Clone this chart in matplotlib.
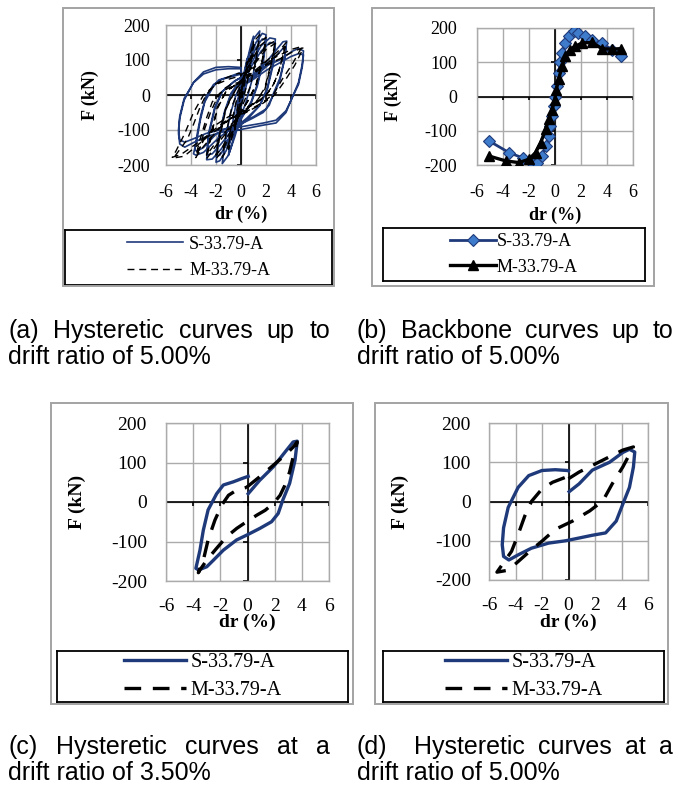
import matplotlib
matplotlib.use("Agg")
import matplotlib.pyplot as plt
from matplotlib.patches import Rectangle

# ================= 1. data =================
x_ticks = [-6, -4, -2, 0, 2, 4, 6]
y_ticks = [-200, -100, 0, 100, 200]

# --- S-33.79-A hysteresis loops, one array pair per cycle ---
s_l1_x = [0, 0.12, 0.25, 0.2, 0.05, -0.1, -0.25, -0.2, -0.05, 0]
s_l1_f = [0, 35, 60, 40, 0, -30, -60, -45, -5, 5]
s_l2_x = [0, 0.25, 0.5, 0.42, 0.15, -0.15, -0.5, -0.42, -0.15, 0]
s_l2_f = [5, 65, 105, 60, 0, -50, -110, -65, -5, 10]
s_l3_x = [0, 0.4, 0.8, 1.0, 0.85, 0.45, 0, -0.4, -0.8, -1.0, -0.85, -0.45, 0]
s_l3_f = [10, 85, 145, 168, 110, 30, -35, -95, -150, -172, -115, -35, 20]
s_l4_x = [0, 0.5, 1.0, 1.5, 1.3, 0.9, 0.4, 0, -0.5, -1.0, -1.5, -1.3, -0.9, -0.4, 0]
s_l4_f = [20, 95, 160, 183, 120, 45, -20, -60, -120, -172, -196, -140, -60, 0, 30]
s_l5_x = [0, 0.6, 1.2, 1.7, 2.0, 1.8, 1.3, 0.8, 0, -0.6, -1.2, -1.7, -2.0, -1.8, -1.3, -0.8, 0]
s_l5_f = [30, 95, 150, 176, 172, 110, 30, -20, -70, -110, -160, -188, -192, -130, -50, 0, 40]
s_l5b_x = [0, 0.6, 1.2, 1.7, 2.0, 1.8, 1.3, 0.8, 0, -0.6, -1.2, -1.7, -2.0, -1.8, -1.3, -0.8, 0]
s_l5b_f = [40, 85, 135, 160, 158, 100, 25, -25, -65, -100, -145, -172, -176, -120, -45, 5, 45]
s_l6_x = [0, 0.8, 1.6, 2.3, 2.75, 2.6, 2.1, 1.5, 0.5, 0, -0.8, -1.6, -2.3, -2.75, -2.6, -2.1,
          -1.5, -0.5, 0]
s_l6_f = [45, 90, 140, 163, 160, 100, 20, -30, -70, -85, -115, -155, -183, -185, -120, -40,
          10, 40, 50]
s_l6b_x = [0, 0.8, 1.6, 2.3, 2.75, 2.6, 2.1, 1.5, 0.5, 0, -0.8, -1.6, -2.3, -2.75, -2.6, -2.1,
           -1.5, -0.5, 0]
s_l6b_f = [50, 80, 125, 150, 148, 90, 15, -30, -65, -80, -105, -140, -168, -172, -110, -35,
           10, 40, 50]
s_l7_x = [0.05, 0.9, 1.9, 2.87, 3.36, 3.66, 3.5, 3.1, 2.6, 2.26, 1.77, 0.9, -0.07, -0.8, -1.78,
          -2.5, -3.0, -3.6, -3.8, -3.5, -3.25, -2.9, -2.27, -1.78, -1.05, -0.44, 0.05]
s_l7_f = [21, 55, 89, 131, 152, 154, 106, 47, 5, -29, -50, -67, -84, -96, -122,
          -147, -164, -172, -168, -122, -71, -20, 21, 43, 51, 59, 65]
s_l7b_x = [0.05, 1.0, 2.0, 2.9, 3.4, 3.6, 3.45, 3.1, 2.6, 2.0, 1.0, 0, -1.0, -2.0, -3.0, -3.5,
           -3.7, -3.5, -3.2, -2.8, -2.2, -1.5, -0.5, 0.05]
s_l7b_f = [20, 50, 80, 115, 135, 138, 95, 40, 0, -40, -62, -80, -92, -112, -150, -160,
           -158, -110, -55, -5, 30, 45, 55, 60]
s_l8_x = [0.05, 0.8, 1.8, 3.1, 4.1, 4.6, 5.0, 4.9, 4.6, 4.2, 3.6, 2.8, 1.8, 0.8, -0.2, -1.5,
          -2.8, -3.8, -4.5, -4.9, -5.0, -4.9, -4.55, -3.8, -3.0, -2.0, -1.0, -0.1, 0]
s_l8_f = [25, 45, 80, 100, 125, 133, 126, 88, 36, 2, -50, -80, -86, -93, -100, -106,
          -119, -136, -149, -140, -110, -67, -15, 36, 66, 79, 81, 79, 78]
s_l8b_x = [0.05, 1, 2, 3, 4, 4.6, 5.0, 4.9, 4.6, 4.2, 3.6, 2.8, 1.8, 0.8, -0.2, -1.5, -2.8,
           -3.8, -4.5, -4.9, -5.0, -4.9, -4.55, -3.8, -3.0, -2.0, -1.0, 0]
s_l8b_f = [25, 45, 70, 90, 110, 118, 115, 80, 30, 0, -45, -72, -80, -86, -92, -98, -110,
           -125, -135, -128, -100, -60, -10, 35, 60, 72, 75, 75]

# --- M-33.79-A hysteresis loops ---
m_l1_x = [0, 0.12, 0.25, 0.18, 0.05, -0.1, -0.25, -0.18, -0.05, 0]
m_l1_f = [0, 30, 55, 30, 0, -30, -55, -30, 0, 5]
m_l2_x = [0, 0.25, 0.5, 0.35, 0.1, -0.2, -0.5, -0.35, -0.1, 0]
m_l2_f = [5, 55, 95, 45, -5, -55, -100, -50, 0, 10]
m_l3_x = [0, 0.5, 1.0, 0.8, 0.4, 0, -0.5, -1.0, -0.8, -0.4, 0]
m_l3_f = [10, 85, 152, 90, 20, -30, -95, -155, -90, -20, 20]
m_l4_x = [0, 0.7, 1.2, 1.5, 1.2, 0.7, 0, -0.7, -1.2, -1.5, -1.2, -0.7, 0]
m_l4_f = [20, 100, 160, 172, 100, 20, -40, -110, -160, -178, -110, -30, 30]
m_l5_x = [0, 0.8, 1.5, 2.0, 1.7, 1.2, 0.5, 0, -0.8, -1.5, -2.0, -1.7, -1.2, -0.5, 0]
m_l5_f = [30, 100, 150, 165, 100, 30, -20, -50, -110, -160, -182, -120, -40, 10, 35]
m_l5b_x = [0, 0.8, 1.5, 2.0, 1.7, 1.2, 0.5, 0, -0.8, -1.5, -2.0, -1.7, -1.2, -0.5, 0]
m_l5b_f = [35, 95, 140, 155, 95, 25, -20, -45, -100, -150, -172, -110, -35, 10, 40]
m_l6_x = [0, 1, 2, 2.75, 2.4, 1.9, 1.2, 0, -1, -2, -2.75, -2.4, -1.9, -1.2, 0]
m_l6_f = [40, 90, 140, 155, 90, 20, -20, -55, -100, -145, -182, -120, -40, 10, 40]
m_l6b_x = [0, 1, 2, 2.75, 2.4, 1.9, 1.2, 0, -1, -2, -2.75, -2.4, -1.9, -1.2, 0]
m_l6b_f = [40, 85, 130, 148, 85, 15, -20, -50, -95, -135, -172, -110, -35, 10, 40]
m_l7_x = [-0.07, 0.9, 1.9, 2.87, 3.36, 3.66, 3.36, 3.1, 2.75, 2.4, 1.9, 1.3, 0.7, -0.07, -0.8,
          -1.54, -2.27, -3.0, -3.5, -3.62, -3.25, -2.9, -2.4, -1.9, -1.4, -0.8, -0.07]
m_l7_f = [37, 64, 93, 122, 139, 152, 114, 76, 42, 17, -4, -21, -33, -50, -67,
          -88, -117, -147, -172, -179, -147, -96, -46, -8, 17, 30, 37]
m_l7b_x = [0, 1, 2, 3, 3.5, 3.3, 3.0, 2.6, 2.1, 1.5, 0.7, 0, -1, -2, -3, -3.6, -3.3, -2.8,
           -2.3, -1.7, -1, 0]
m_l7b_f = [40, 60, 88, 118, 138, 105, 65, 30, 5, -15, -30, -45, -62, -85, -130, -172, -130, -70,
           -20, 5, 20, 35]
m_l8_x = [0, 0.8, 1.8, 3.1, 4.1, 4.9, 4.1, 3.3, 2.6, 1.6, 0.3, -1.0, -2.0, -2.8, -3.8, -4.55,
          -5.4, -4.3, -3.8, -3.3, -2.8, -2.0, -1.2, -0.2, 0]
m_l8_f = [58, 75, 92, 114, 131, 139, 88, 45, 2, -24, -50, -71, -101, -123, -153, -175,
          -180, -127, -84, -37, 0, 32, 49, 62, 60]
m_l8b_x = [0, 1, 2, 3.2, 4.2, 5.0, 4.3, 3.5, 2.7, 1.7, 0.4, -1, -2, -3, -4, -4.8, -5.5, -5.2,
           -4.5, -3.8, -3.0, -2, -1, 0]
m_l8b_f = [50, 65, 85, 105, 125, 135, 85, 40, 0, -25, -50, -68, -95, -125, -150, -170, -178,
           -160, -110, -50, 0, 30, 45, 55]

# --- backbone curves ---
s_bb_x = [-5.06, -3.53, -2.5, -1.75, -1.37, -0.99, -0.73, -0.48, -0.35, -0.22, -0.1, 0.03,
          0.16, 0.28, 0.4, 0.54, 0.8, 1.05, 1.43, 1.8, 2.3, 2.83, 3.6, 4.36, 5.1]
s_bb_f = [-130, -164, -179, -193, -195, -174, -145, -116, -86, -57, -28, 0,
          30, 69, 100, 127, 156, 176, 190, 185, 176, 166, 156, 137, 117]
m_bb_x = [-5.06, -3.8, -2.77, -2.0, -1.5, -1.1, -0.73, -0.48, -0.22, -0.02, 0.1, 0.28,
          0.54, 0.8, 1.18, 1.56, 2.07, 2.83, 3.6, 4.36, 5.1]
m_bb_f = [-174, -188, -193, -183, -164, -135, -96, -67, -38, -9, 20, 50,
          88, 117, 137, 147, 156, 158, 140, 138, 140]

# full test = all cycles in sequence
s_all_x = (s_l1_x + s_l2_x + s_l3_x + s_l4_x + s_l5_x + s_l5b_x + s_l6_x + s_l6b_x
           + s_l7_x + s_l7b_x + s_l8_x + s_l8b_x)
s_all_f = (s_l1_f + s_l2_f + s_l3_f + s_l4_f + s_l5_f + s_l5b_f + s_l6_f + s_l6b_f
           + s_l7_f + s_l7b_f + s_l8_f + s_l8b_f)
m_all_x = (m_l1_x + m_l2_x + m_l3_x + m_l4_x + m_l5_x + m_l5b_x + m_l6_x + m_l6b_x
           + m_l7_x + m_l7b_x + m_l8_x + m_l8b_x)
m_all_f = (m_l1_f + m_l2_f + m_l3_f + m_l4_f + m_l5_f + m_l5b_f + m_l6_f + m_l6b_f
           + m_l7_f + m_l7b_f + m_l8_f + m_l8b_f)

label_s = 'S-33.79-A'
label_m = 'M-33.79-A'

captions = [
    (['(a)', 'Hysteretic', 'curves', 'up', 'to'], [1, 1, 1, 1], 'drift ratio of 5.00%'),
    (['(b)', 'Backbone', 'curves', 'up', 'to'], [1, 1, 1, 1], 'drift ratio of 5.00%'),
    (['(c)', 'Hysteretic', 'curves', 'at', 'a'], [1, 1, 1, 1], 'drift ratio of 3.50%'),
    (['(d)', 'Hysteretic', 'curves', 'at', 'a'], [2, 1, 1, 1], 'drift ratio of 5.00%'),
]

# ================= 2. style / layout =================
W, H, DPI = 681, 788, 100
NAVY = '#1F3A7A'
GRID = '#ABABAB'
SERIF = ['Liberation Serif', 'DejaVu Serif']
SANS = ['Liberation Sans', 'DejaVu Sans']

fig = plt.figure(figsize=(W / DPI, H / DPI), dpi=DPI)


def frac(x0, y0, x1, y1):
    """pixel box (top-left origin) -> figure fraction rect"""
    return [x0 / W, 1 - y1 / H, (x1 - x0) / W, (y1 - y0) / H]


def outer_box(x0, y0, x1, y1):
    fig.add_artist(Rectangle((x0 / W, 1 - y1 / H), (x1 - x0) / W, (y1 - y0) / H,
                             transform=fig.transFigure, fill=False,
                             edgecolor='#A3A3A3', lw=1.4))


def make_axes(box, fs, xpad, ypad, ylab_x, xlab_y):
    ax = fig.add_axes(frac(*box))
    ax.set_xlim(-6, 6)
    ax.set_ylim(-200, 200)
    ax.set_xticks(x_ticks)
    ax.set_yticks(y_ticks)
    ax.set_xticklabels([str(v) for v in x_ticks], fontfamily=SERIF, fontsize=fs)
    ax.set_yticklabels([str(v) for v in y_ticks], fontfamily=SERIF, fontsize=fs)
    ax.tick_params(axis='x', length=0, pad=xpad)
    ax.tick_params(axis='y', length=0, pad=ypad)
    ax.grid(True, color=GRID, lw=1.0)
    ax.set_axisbelow(True)
    for sp in ax.spines.values():
        sp.set_color(GRID)
        sp.set_linewidth(1.0)
    # excel style axes crossing at zero
    ax.axhline(0, color='black', lw=1.2, zorder=1.5)
    ax.axvline(0, color='black', lw=1.2, zorder=1.5)
    ax.vlines(x_ticks, -11, 0, color='black', lw=1.2, zorder=1.5)
    ax.hlines(y_ticks, -0.3, 0, color='black', lw=1.2, zorder=1.5)
    # axis titles
    x0, y0, x1, y1 = box
    fig.text(ylab_x / W, 1 - (y0 + y1) / 2 / H, 'F (kN)', rotation=90, ha='center',
             va='center', fontfamily=SERIF, fontweight='bold', fontsize=fs)
    fig.text((x0 + x1) / 2 / W, 1 - xlab_y / H, 'dr (%)', ha='center', va='center',
             fontfamily=SERIF, fontweight='bold', fontsize=fs)
    return ax


def legend_box(box, handles, fs, hlen, hpad, lspace):
    lax = fig.add_axes(frac(*box))
    lax.set_xticks([])
    lax.set_yticks([])
    for sp in lax.spines.values():
        sp.set_color('black')
        sp.set_linewidth(1.3)
    lax.legend(handles, [label_s, label_m], loc='center', frameon=False,
               prop={'family': SERIF, 'size': fs}, handlelength=hlen,
               handletextpad=hpad, labelspacing=lspace, borderpad=0, numpoints=1)


# ================= 3. panels =================
# (a) full hysteresis
outer_box(63, 8, 334, 286)
ax_a = make_axes((166, 25, 316, 165), 13, 14, 11.5, 90, 214)
la1, = ax_a.plot(s_all_x, s_all_f, color=NAVY, lw=1.2, zorder=3)
la2, = ax_a.plot(m_all_x, m_all_f, color='black', lw=1.0, ls=(0, (5, 3.5)), zorder=4)
legend_box((65, 230, 332, 285), [la1, la2], 13, 3.1, 0.35, 0.55)

# (b) backbone
outer_box(372, 8, 654, 286)
ax_b = make_axes((477, 28, 633, 165), 13, 14, 14.4, 393, 215)
lb1, = ax_b.plot(s_bb_x, s_bb_f, color=NAVY, lw=2.0, marker='D', ms=6.3,
                 mfc='#3F7BCB', mec=NAVY, mew=0.8, zorder=3)
lb2, = ax_b.plot(m_bb_x, m_bb_f, color='black', lw=2.4, marker='^', ms=7.5,
                 mfc='black', mec='black', zorder=4)
legend_box((383, 228, 645, 281), [lb1, lb2], 13, 2.55, 0.05, 0.45)

# (c) loop at 3.50 %
outer_box(51, 403, 353, 704)
ax_c = make_axes((166, 423, 329, 581), 14, 12, 13.7, 77, 622)
lc1, = ax_c.plot(s_l7_x, s_l7_f, color=NAVY, lw=2.4, zorder=3)
lc2, = ax_c.plot(m_l7_x, m_l7_f, color='black', lw=2.4, ls=(0, (5, 3.5)), zorder=4)
legend_box((57, 651, 348, 702), [lc1, lc2], 14.5, 3.1, 0.2, 0.45)

# (d) loop at 5.00 %
outer_box(375, 403, 668, 704)
ax_d = make_axes((489, 423, 648, 580), 14, 12, 13, 400, 622)
ld1, = ax_d.plot(s_l8_x, s_l8_f, color=NAVY, lw=2.4, zorder=3)
ld2, = ax_d.plot(m_l8_x, m_l8_f, color='black', lw=2.4, ls=(0, (5, 3.5)), zorder=4)
legend_box((383, 651, 664, 702), [ld1, ld2], 14.5, 3.1, 0.2, 0.45)

# ================= 4. justified captions =================
renderer = fig.canvas.get_renderer()
CAP_FS = 18


def justified(words, weights, x0, x1, base):
    texts = [fig.text(0, 1 - base / H, w, fontfamily=SANS, fontsize=CAP_FS,
                      ha='left', va='baseline') for w in words]
    widths = [t.get_window_extent(renderer).width for t in texts]
    gap = (x1 - x0 - sum(widths)) / sum(weights)
    x = x0
    for i, t in enumerate(texts):
        t.set_x(x / W)
        x += widths[i] + (gap * weights[i] if i < len(weights) else 0)


cap_pos = [(8, 330, 338), (357, 673, 338), (8, 330, 754), (357, 673, 754)]
for (words, weights, line2), (cx0, cx1, base) in zip(captions, cap_pos):
    justified(words, weights, cx0, cx1, base)
    fig.text(cx0 / W, 1 - (base + 26) / H, line2, fontfamily=SANS, fontsize=CAP_FS,
             ha='left', va='baseline')

fig.savefig('out.png', dpi=DPI)
